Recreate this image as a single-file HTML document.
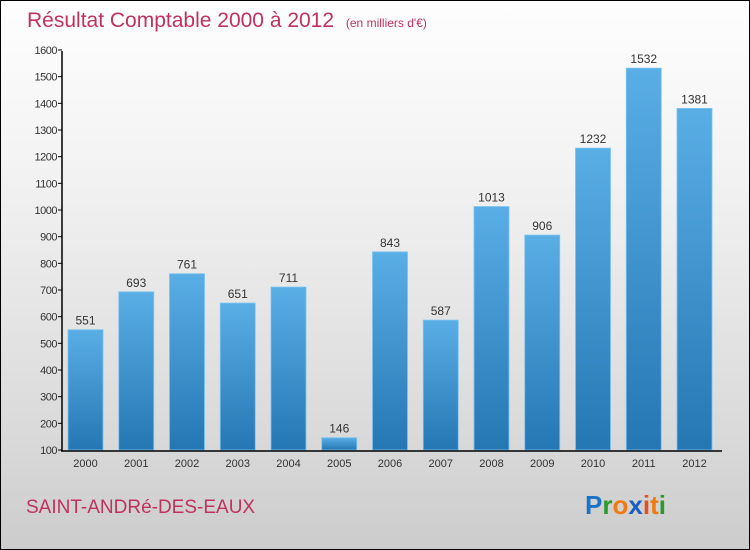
<!DOCTYPE html>
<html><head><meta charset="utf-8"><style>
body{margin:0}
#w{width:748px;height:548px;border:1px solid #000;background:linear-gradient(#fefefe,#f3f3f3 30%,#d9d9d9 80%,#cccccc);position:relative;overflow:hidden;font-family:"Liberation Sans",sans-serif}
</style></head><body>
<div id="w">
<svg id="s" width="748" height="548" xmlns="http://www.w3.org/2000/svg">
<defs><linearGradient id="g" x1="0" y1="0" x2="0" y2="1"><stop offset="0" stop-color="#5aaee6"/><stop offset="1" stop-color="#2577b3"/></linearGradient></defs>
<text x="26" y="26" font-size="21" fill="#c0325e">Résultat Comptable 2000 à 2012 <tspan font-size="12" dx="6">(en milliers d'€)</tspan></text>
<text x="25" y="512" font-size="19" fill="#c0325e">SAINT-ANDRé-DES-EAUX</text>
<text x="584" y="513" font-size="26" font-weight="bold"><tspan fill="#1a73c9">P</tspan><tspan fill="#2a9a2a">r</tspan><tspan fill="#f07a10">o</tspan><tspan fill="#1a5fc0">x</tspan><tspan fill="#e05020">i</tspan><tspan fill="#f07a10">t</tspan><tspan fill="#2a9a2a">i</tspan></text>
<g id="c"></g>
</svg>
</div>
<script>
const years=["2000","2001","2002","2003","2004","2005","2006","2007","2008","2009","2010","2011","2012"];
const values=[551,693,761,651,711,146,843,587,1013,906,1232,1532,1381];
const ticks=[100,200,300,400,500,600,700,800,900,1000,1100,1200,1300,1400,1500,1600];
const NS="http://www.w3.org/2000/svg",c=document.getElementById('c');
const y=v=>449-(v-100)*400/1500, x=i=>60+7+i*50.75;
function mk(t,a,txt){const e=document.createElementNS(NS,t);for(const k in a)e.setAttribute(k,a[k]);if(txt!=null)e.textContent=txt;c.appendChild(e);return e;}
ticks.forEach(t=>{
 const l=mk('line',{x1:57,x2:61,y1:y(t),y2:y(t),stroke:'#000'});
 
 
 const tx=mk('text',{x:56,y:y(t)+4,'font-size':11,'text-anchor':'end',fill:'#333','letter-spacing':'-0.5'},t);
 
 
});
values.forEach((v,i)=>{
 const b=mk('rect',{x:x(i),y:y(v),width:35,height:y(100)-y(v),fill:'url(#g)',stroke:'#7cc3f0','stroke-width':0.8});
 
 
 const t=mk('text',{x:x(i)+17.5,y:y(v)-5,'font-size':12,'text-anchor':'middle',fill:'#333'},v);
 
 
 const yl=mk('text',{x:x(i)+17.5,y:466,'font-size':11,'text-anchor':'middle',fill:'#333'},years[i]);
 
 
});
const ya=mk('line',{x1:61,x2:61,y1:50,y2:450,stroke:'#000','stroke-width':1.5});


const xa=mk('line',{x1:60,x2:721,y1:450,y2:450,stroke:'#000','stroke-width':1.5});


</script>
</body></html>
